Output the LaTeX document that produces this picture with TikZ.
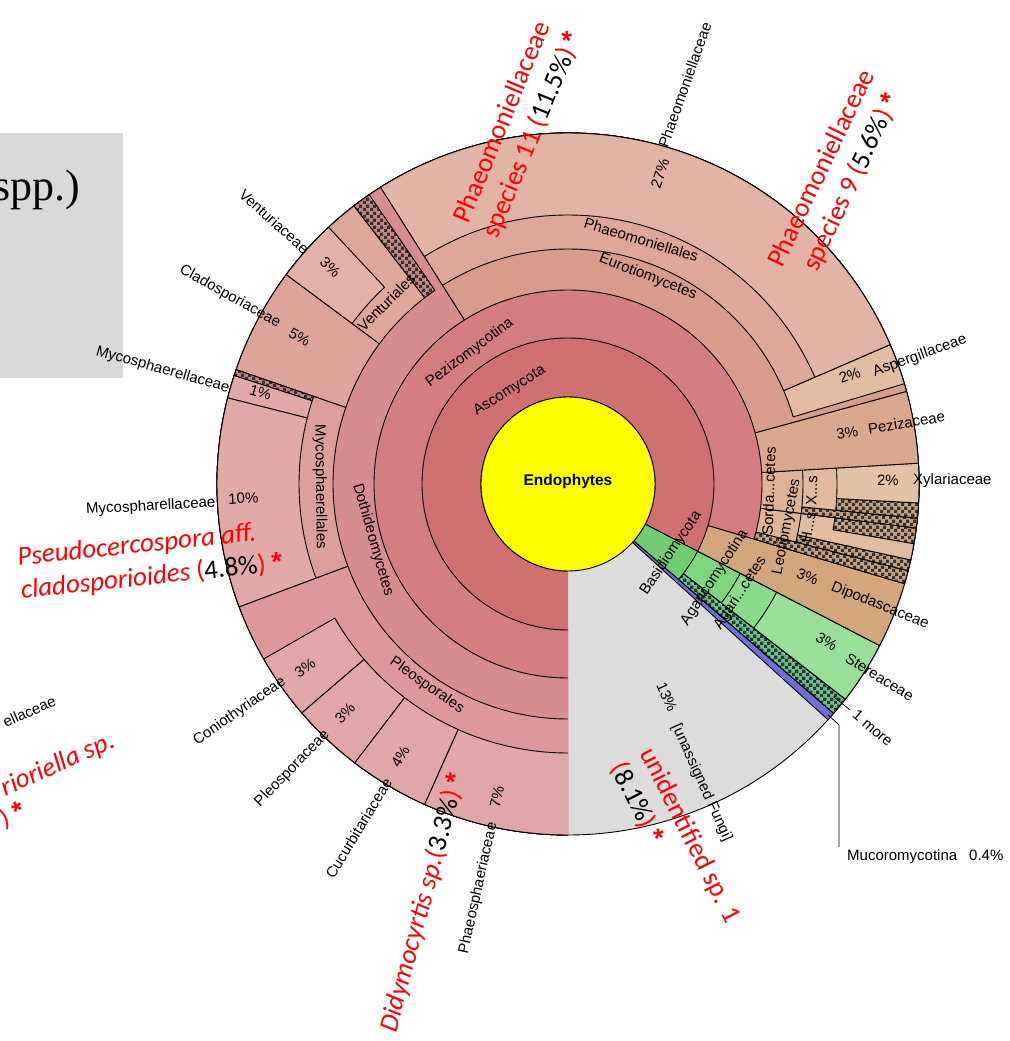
\documentclass[tikz,border=0pt]{standalone}
\usepackage{fontspec}
\setmainfont{Liberation Sans}
\newfontfamily\cfont{Carlito}
\newfontfamily\sfont{Liberation Serif}
\newfontfamily\afont{Liberation Sans}
\newcommand{\rast}{{\afont\bfseries *}}
\usetikzlibrary{patterns}
\pgfdeclarepatternformonly{kcheck}{\pgfpointorigin}{\pgfqpoint{6.6pt}{6.6pt}}{\pgfqpoint{6.6pt}{6.6pt}}{%
 \pgfpathrectangle{\pgfpointorigin}{\pgfqpoint{3.3pt}{3.3pt}}%
 \pgfpathrectangle{\pgfqpoint{3.3pt}{3.3pt}}{\pgfqpoint{3.3pt}{3.3pt}}%
 \pgfusepath{fill}}
\definecolor{cyel}{RGB}{255,255,0}
\definecolor{casco}{RGB}{208,112,112}
\definecolor{cpeziz}{RGB}{212,126,128}
\definecolor{cdoth}{RGB}{215,141,142}
\definecolor{cpleo}{RGB}{221,153,153}
\definecolor{cfam}{RGB}{224,167,166}
\definecolor{cvent}{RGB}{221,167,154}
\definecolor{cventf}{RGB}{226,178,166}
\definecolor{cclado}{RGB}{221,165,153}
\definecolor{cmycoO}{RGB}{220,160,154}
\definecolor{cmycoF}{RGB}{225,170,166}
\definecolor{ceuro}{RGB}{215,156,138}
\definecolor{cphaeoO}{RGB}{221,168,151}
\definecolor{cphaeoF}{RGB}{226,180,165}
\definecolor{casper}{RGB}{227,188,164}
\definecolor{cpezi}{RGB}{218,169,140}
\definecolor{csord}{RGB}{222,180,148}
\definecolor{chelo}{RGB}{226,188,158}
\definecolor{cxylo}{RGB}{225,186,156}
\definecolor{cxyl}{RGB}{228,194,166}
\definecolor{csacch}{RGB}{211,166,124}
\definecolor{cbasi}{RGB}{112,206,112}
\definecolor{cagar}{RGB}{126,214,126}
\definecolor{cagarc}{RGB}{138,219,138}
\definecolor{cster}{RGB}{152,224,152}
\definecolor{cgchk}{RGB}{100,195,140}
\definecolor{cmuco}{RGB}{110,110,220}
\definecolor{cgray}{RGB}{220,220,220}
\definecolor{cbox}{RGB}{217,217,217}
\definecolor{cdchk}{RGB}{196,136,126}
\definecolor{ctchk}{RGB}{200,160,126}
\newcommand{\wseg}[5]{\path[#5] (#1:#3pt) arc[start angle=#1,end angle=#2,radius=#3pt] -- (#2:#4pt) arc[start angle=#2,end angle=#1,radius=#4pt] -- cycle;}
\newcommand{\wsegO}[5]{\path[#5] (#1:#3pt) arc[start angle=#1,end angle=#2,radius=#3pt] -- (#2:#4pt) arc[start angle=#2,end angle=#1,radius=#4pt] -- cycle;
 \draw[kline] (#2:#3pt) arc[start angle=#2,end angle=#1,radius=#3pt] -- (#1:#4pt) arc[start angle=#1,end angle=#2,radius=#4pt];}
\newcommand{\cseg}[5]{\wseg{#1}{#2}{#3}{#4}{preaction={fill=#5},pattern=kcheck,pattern color=black!80,kline}}
\begin{document}
\begin{tikzpicture}[x=1pt,y=1pt,
 kline/.style={draw=black,line width=0.9pt,line join=round},
 klab/.style={font=\fontsize{15}{18}\selectfont,inner sep=0pt},
 rlab/.style={font=\cfont\fontsize{27}{33}\selectfont,text=red,inner sep=0pt}]
\useasboundingbox (0,0) rectangle (1009,1041);
\fill[cbox] (0,663) rectangle (123,908);
\node[font=\sfont\fontsize{44}{50}\selectfont,anchor=base east,inner sep=0pt] (spp) at (80,840) {spp.)};
\begin{scope}[shift={(568,557)}]
% unassigned
\wseg{270}{317.8}{87}{351}{fill=cgray}
\draw[kline] (270:351pt) arc[start angle=270,end angle=317.8,radius=351pt];
% Mucoromycota
\wseg{317.8}{319.2}{87}{351}{fill=cmuco,kline}
% Basidiomycota
\wseg{319.2}{332.6}{87}{351}{fill=cbasi,kline}
\cseg{319.2}{322.2}{146}{351}{cgchk}
\wseg{322.2}{332.6}{146}{351}{fill=cagar,kline}
\wseg{322.2}{332.6}{194}{351}{fill=cagarc,kline}
\wseg{322.2}{332.6}{235}{351}{fill=cster,kline}
% Ascomycota
\wsegO{332.6}{630}{87}{351}{fill=casco}
\wseg{332.6}{343.5}{146}{351}{fill=csacch,kline}
\wsegO{343.5}{630}{146}{351}{fill=cpeziz}
\cseg{343.5}{345.7}{194}{351}{ctchk}
% Leotiomycetes
\wseg{345.7}{352.8}{194}{351}{fill=csord,kline}
\cseg{345.7}{347.5}{235}{351}{ctchk}
\wseg{347.5}{352.8}{235}{351}{fill=chelo,kline}
\cseg{350.2}{352.8}{269}{351}{ctchk}
% Sordariomycetes
\wseg{352.8}{363.4}{194}{351}{fill=csord,kline}
\cseg{352.8}{354.4}{235}{351}{ctchk}
\wseg{354.4}{363.4}{235}{351}{fill=cxylo,kline}
\cseg{354.4}{356.9}{269}{351}{ctchk}
\wseg{356.9}{363.4}{269}{351}{fill=cxyl,kline}
% Pezizomycetes
\wseg{363.4}{375.3}{194}{351}{fill=cpezi,kline}
% Eurotiomycetes
\wseg{375.3}{482.3}{194}{351}{fill=ceuro,kline}
\wseg{376.6}{383.4}{235}{351}{fill=casper,kline}
\wseg{383.4}{482.3}{235}{351}{fill=cphaeoO,kline}
\wseg{383.4}{482.3}{269}{351}{fill=cphaeoF,kline}
% Dothideomycetes
\wsegO{482.3}{630}{194}{351}{fill=cdoth}
\cseg{484.5}{487.6}{235}{351}{cdchk}
\wseg{487.6}{503.4}{235}{351}{fill=cvent,kline}
\wseg{493}{503.4}{269}{351}{fill=cventf,kline}
\wseg{503.4}{521}{235}{351}{fill=cclado,kline}
\wseg{521}{560.5}{235}{351}{fill=cmycoO,kline}
\cseg{521}{522}{269}{351}{cdchk}
\wseg{522}{525.8}{269}{351}{fill=cmycoF,kline}
\wseg{525.8}{560.5}{269}{351}{fill=cmycoF,kline}
\wsegO{560.5}{630}{235}{351}{fill=cpleo}
\wseg{569.9}{580.7}{269}{351}{fill=cfam,kline}
\wseg{580.7}{592.6}{269}{351}{fill=cfam,kline}
\wseg{592.6}{605.9}{269}{351}{fill=cfam,kline}
\wsegO{605.9}{630}{269}{351}{fill=cfam}
% centre
\filldraw[fill=cyel,kline] (0,0) circle[radius=87pt];
\node[font=\bfseries\fontsize{15.5}{18}\selectfont,inner sep=0pt] (endo) at (0,3) {Endophytes};
% inner labels
\node[klab,rotate=32] (asco) at (122:110pt) {Ascomycota};
\node[klab,rotate=36.8] (pezmy) at (126.8:164pt) {Pezizomycotina};
\node[klab,rotate=-21.1] (euro) at (68.9:222pt) {Eurotiomycetes};
\node[klab,rotate=-16.7] (phaeoO) at (73.3:255pt) {Phaeomoniellales};
\node[klab,rotate=-74] (doth) at (196:203pt) {Dothideomycetes};
\node[klab,rotate=-89.3] (mycoO) at (180.7:248pt) {Mycosphaerellales};
\node[klab,rotate=-35] (pleoO) at (235:246pt) {Pleosporales};
\node[klab,rotate=45] (ventO) at (135:257pt) {Venturiales};
\node[klab,rotate=56] (basi) at (-33.8:124pt) {Basidiomycota};
\node[klab,rotate=57] (agar) at (-32.6:174pt) {Agaricomycotina};
\node[klab,rotate=57] (agarc) at (-32.3:204pt) {Agari...cetes};
\node[klab,rotate=88] (sord) at (-2:201pt) {Sorda...cetes};
\node[klab,rotate=79] (leot) at (-11.1:223pt) {Leotiomycetes};
\node[klab,rotate=88] (xylo) at (-1.6:244pt) {X...s};
\node[klab,rotate=80] (helo) at (-10.2:244pt) {H...s};
% outer labels, left side
\node[klab,anchor=east,rotate=-41.8] (venturiaceae) at (138.2:350pt) {Venturiaceae};
\node[klab,rotate=-42.4] (pvent) at (137.6:322pt) {3\%};
\node[klab,anchor=east,rotate=-29] (clado) at (151:330pt) {Cladosporiaceae};
\node[klab,rotate=-28.7] (pclado) at (151.3:306pt) {5\%};
\node[klab,anchor=east,rotate=-15.7] (mycoa) at (164.3:352pt) {Mycosphaerellaceae};
\node[klab,rotate=-16.6] (pmycoa) at (163.4:321pt) {1\%};
\node[klab,anchor=east,rotate=3.1] (mycob) at (183.1:353pt) {Mycospharellaceae};
\node[klab,rotate=3] (pmycob) at (182.5:325pt) {10\%};
\node[klab,anchor=east,rotate=34.7] (conio) at (214.7:345pt) {Coniothyriaceae};
\node[klab,rotate=35] (pconio) at (215:321pt) {3\%};
\node[klab,anchor=east,rotate=45.9] (pleof) at (225.9:346pt) {Pleosporaceae};
\node[klab,rotate=45.8] (ppleof) at (225.8:320pt) {3\%};
\node[klab,anchor=east,rotate=58.7] (cucu) at (238.7:346pt) {Cucurbitariaceae};
\node[klab,rotate=58.4] (pcucu) at (238.4:320pt) {4\%};
\node[klab,anchor=east,rotate=77.5] (phaeos) at (257.5:347pt) {Phaeosphaeriaceae};
\node[klab,rotate=77.2] (pphaeos) at (257.2:321pt) {7\%};
% unassigned
\node[klab,rotate=-65.6] (punas) at (-65.1:235pt) {13\%};
\node[klab,anchor=west,rotate=-65.6] (unas) at (-66:264pt) {[unassigned Fungi]};
% right side
\node[klab,anchor=west,rotate=70.5] (phaeoF) at (74.3:350pt) {Phaeomoniellaceae};
\node[klab,rotate=71] (pphaeoF) at (73.5:324pt) {27\%};
\node[klab,rotate=20] (pasper) at (21.1:302pt) {2\%};
\node[klab,anchor=west,rotate=20] (asper) at (20:325pt) {Aspergillaceae};
\node[klab,rotate=9.4] (ppezi) at (10.4:284pt) {3\%};
\node[klab,anchor=west,rotate=9.4] (pezi) at (10.4:305pt) {Pezizaceae};
\node[klab] (pxyl) at (0.7:320pt) {2\%};
\node[klab,anchor=west] (xyl) at (0.6:345pt) {Xylariaceae};
\node[klab,rotate=-21.5] (pdipo) at (-21.2:257pt) {3\%};
\node[klab,anchor=west,rotate=-21.5] (dipo) at (-21.3:283pt) {Dipodascaceae};
\node[klab,rotate=-31.5] (pster) at (-31.4:303pt) {3\%};
\node[klab,anchor=west,rotate=-31.5] (ster) at (-31.8:328pt) {Stereaceae};
% leaders
\coordinate (moreA) at (-38.7:340pt);
\coordinate (moreB) at (-38.7:361pt);
\node[klab,anchor=west,rotate=-40] (more) at (-38.6:367pt) {1 more};
\draw[line width=0.8pt] (moreA) -- (moreB);
\coordinate (mucoA) at (-41.6:348pt);
\coordinate (mucoB) at (271,-241);
\coordinate (mucoC) at (271,-363);
\node[klab,anchor=west] (muco) at (279,-373) {Mucoromycotina\hspace{12pt}0.4\%};
\draw[line width=0.8pt] (mucoA) -- (mucoB) -- (mucoC);
% red annotations
\node[rlab,align=center,rotate=67.5] (sp11) at (-50,355) {Phaeomoniellaceae\\species 11 (\textcolor{black}{11.5\%}) \rast};
\node[rlab,align=center,rotate=64.5] (sp9) at (269,308) {Phaeomoniellaceae\\species 9 (\textcolor{black}{5.6\%}) \rast};
\node[rlab,align=left,rotate=6] (pseudo) at (-418,-77) {\itshape Pseudocercospora aff.\\\itshape cladosporioides \upshape(\textcolor{black}{4.8\%}) \rast};
\node[rlab,rotate=75] (didy) at (-145,-419) {\itshape Didymocyrtis sp.\upshape(\textcolor{black}{3.3\%}) \rast};
\node[rlab,align=left,rotate=-63.2] (unid) at (107,-359) {unidentified sp. 1\\(\textcolor{black}{8.1\%}) \rast};
\end{scope}
% partial labels at left edge
\node[klab,anchor=east,rotate=24] (ella) at (55,341) {ellaceae};
\node[rlab,rotate=24] (rior) at (58,276) {\itshape rioriella sp.};
\node[rlab,rotate=24] (paren) at (13,226) {) \rast};
\end{tikzpicture}
\end{document}
